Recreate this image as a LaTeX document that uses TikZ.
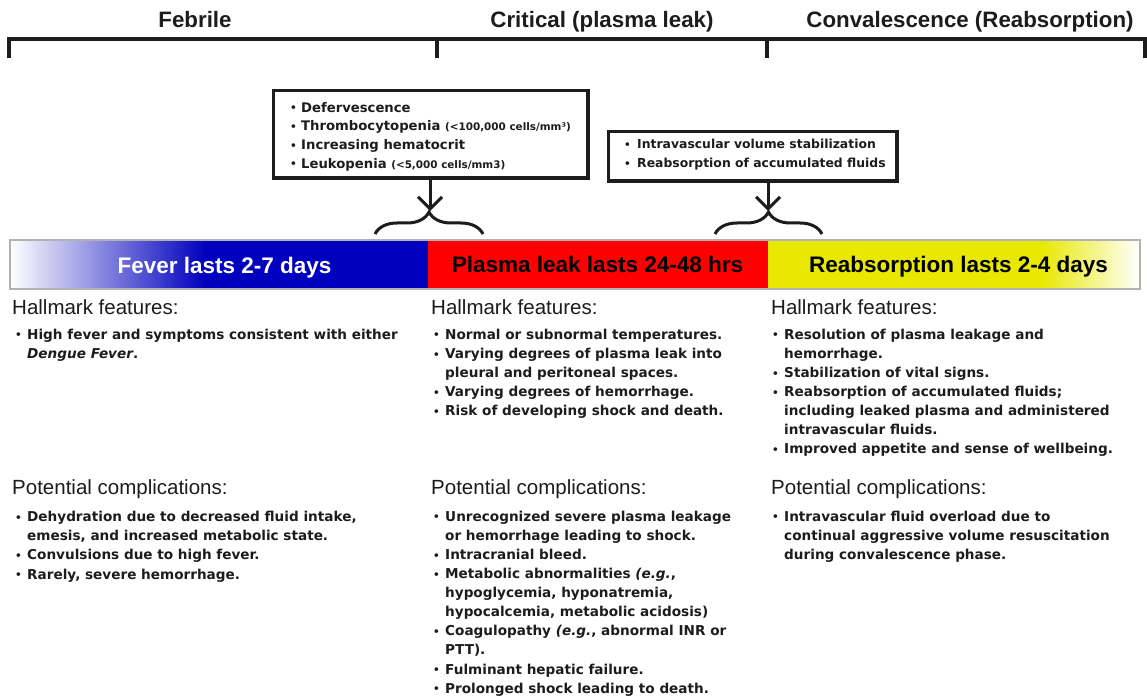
\documentclass[tikz,border=0pt]{standalone}
\usepackage{fontspec}
\setmainfont{Liberation Sans}
\newfontfamily\bodyfont{DejaVu Sans}
\usetikzlibrary{arrows.meta,decorations.pathreplacing,calc}

\definecolor{barblue}{RGB}{0,0,190}
\definecolor{barred}{RGB}{255,0,0}
\definecolor{baryellow}{RGB}{232,232,0}
\definecolor{ink}{RGB}{28,28,28}

% bullet of a given width, and the matching hanging indent
\newcommand\bulw[1]{\makebox[#1][l]{\raisebox{0.3pt}{\fontsize{10.5}{10.5}\selectfont\textbullet}}}
\newcommand\bul{\bulw{12pt}}
\newcommand\ind{\hspace*{12pt}}
\newcommand\tinynote[1]{{\fontsize{10.4}{10.4}\selectfont#1}}

\tikzset{
  phasename/.style={font=\fontsize{22.3}{26}\selectfont\bfseries, text=ink, inner sep=0, anchor=base},
  bartext/.style={font=\fontsize{22.5}{26}\selectfont\bfseries, inner sep=0, anchor=base},
  secthead/.style={font=\fontsize{20.5}{24}\selectfont, text=ink, inner sep=0, anchor=base west},
  itemlist/.style={font=\bodyfont\bfseries\fontsize{13.6}{19.1}\selectfont, text=ink,
    align=left, inner sep=0, anchor=north west, yshift=13.37pt},
  boxlist/.style={font=\bodyfont\bfseries\fontsize{13.2}{18.7}\selectfont, text=ink,
    align=left, inner sep=0, anchor=north west, yshift=13.09pt},
  infobox/.style={draw=ink, line width=3.5pt, inner sep=0, anchor=north west},
  bracketline/.style={draw=ink, line width=3.5pt},
  pointer/.style={draw=ink, line width=3pt, -{Straight Barb[length=12pt,width=24pt]}},
  curly/.style={draw=ink, line width=3pt, decorate, decoration={brace, amplitude=22pt}}
}

\begin{document}
\begin{tikzpicture}[x=1pt, y=-1pt]
\useasboundingbox (0,0) rectangle (1147,700);

% ---- phase names and the timeline bracket ----
\node[phasename] (febrile) at (195,28) {Febrile};
\node[phasename] (critical) at (602,28) {Critical (plasma leak)};
\node[phasename] (conv) at (970,28) {Convalescence (Reabsorption)};

\coordinate (tl) at (9,39);
\coordinate (tr) at (1145,39);
\draw[bracketline] ($(tl)+(0,19)$) -- (tl) -- (tr) -- ($(tr)+(0,19)$);
\draw[bracketline] (437,39) -- (437,58);
\draw[bracketline] (767,39) -- (767,58);

% ---- sign boxes with pointers and braces ----
\node[infobox, minimum width=314.5, minimum height=87.5] (b1) at (271.75,88.75) {};
\node[boxlist] (b1text) at (290,112) {%
  \strut\bulw{11pt}Defervescence\\
  \bulw{11pt}Thrombocytopenia \tinynote{(<100,000 cells/mm³)}\\
  \bulw{11pt}Increasing hematocrit\\
  \bulw{11pt}Leukopenia \tinynote{(<5,000 cells/mm3)}};

\node[infobox, minimum width=288.5, minimum height=49.5] (b2) at (606.75,129.75) {};
\node[boxlist, font=\bodyfont\bfseries\fontsize{12.4}{19}\selectfont] (b2text) at (624,148) {%
  \strut\bulw{13pt}Intravascular volume stabilization\\
  \bulw{13pt}Reabsorption of accumulated fluids};

\coordinate (tip1) at (430,211);
\coordinate (tip2) at (768,211);
\draw[pointer] (b1.south -| tip1) -- (tip1);
\draw[pointer] (b2.south -| tip2) -- (tip2);

\coordinate (br1l) at (375,234);
\coordinate (br1r) at (483,234);
\coordinate (br2l) at (715,234);
\coordinate (br2r) at (822,234);
\draw[curly] (br1l) -- (br1r);
\draw[curly] (br2l) -- (br2r);

% ---- coloured duration bar ----
\shade[left color=white, right color=barblue] (10,240) rectangle (205,289);
\fill[barblue] (204.5,240) rectangle (428,289);
\fill[barred] (428,240) rectangle (768,289);
\fill[baryellow] (768,240) rectangle (1040.5,289);
\shade[left color=baryellow, right color=white] (1040,240) rectangle (1140,289);
\draw[gray!60, line width=1.2pt] (10,240) rectangle (1140,289);

\node[bartext, text=white] (fever) at (224.5,273) {Fever lasts 2-7 days};
\node[bartext, text=black] (leak) at (597.5,272.5) {Plasma leak lasts 24-48 hrs};
\node[bartext, text=black] (reabs) at (958.5,272.5) {Reabsorption lasts 2-4 days};

% ---- febrile column ----
\node[secthead] (h1) at (12,314) {Hallmark features:};
\node[itemlist] (h1list) at (15,339) {%
  \strut\bul High fever and symptoms consistent with either\\
  \ind\textit{Dengue Fever}.};
\node[secthead] (p1) at (12,494) {Potential complications:};
\node[itemlist] (p1list) at (15,521.5) {%
  \strut\bul Dehydration due to decreased fluid intake,\\
  \ind emesis, and increased metabolic state.\\
  \bul Convulsions due to high fever.\\
  \bul Rarely, severe hemorrhage.};

% ---- critical column ----
\node[secthead] (h2) at (431,314) {Hallmark features:};
\node[itemlist] (h2list) at (433,339) {%
  \strut\bul Normal or subnormal temperatures.\\
  \bul Varying degrees of plasma leak into\\
  \ind pleural and peritoneal spaces.\\
  \bul Varying degrees of hemorrhage.\\
  \bul Risk of developing shock and death.};
\node[secthead] (p2) at (431,494) {Potential complications:};
\node[itemlist] (p2list) at (433,521) {%
  \strut\bul Unrecognized severe plasma leakage\\
  \ind or hemorrhage leading to shock.\\
  \bul Intracranial bleed.\\
  \bul Metabolic abnormalities \textit{(e.g.},\\
  \ind hypoglycemia, hyponatremia,\\
  \ind hypocalcemia, metabolic acidosis)\\
  \bul Coagulopathy \textit{(e.g.}, abnormal INR or\\
  \ind PTT).\\
  \bul Fulminant hepatic failure.\\
  \bul Prolonged shock leading to death.};

% ---- convalescence column ----
\node[secthead] (h3) at (771,314) {Hallmark features:};
\node[itemlist] (h3list) at (772,339) {%
  \strut\bul Resolution of plasma leakage and\\
  \ind hemorrhage.\\
  \bul Stabilization of vital signs.\\
  \bul Reabsorption of accumulated fluids;\\
  \ind including leaked plasma and administered\\
  \ind intravascular fluids.\\
  \bul Improved appetite and sense of wellbeing.};
\node[secthead] (p3) at (771,494) {Potential complications:};
\node[itemlist] (p3list) at (772,521) {%
  \strut\bul Intravascular fluid overload due to\\
  \ind continual aggressive volume resuscitation\\
  \ind during convalescence phase.};
\end{tikzpicture}
\end{document}
